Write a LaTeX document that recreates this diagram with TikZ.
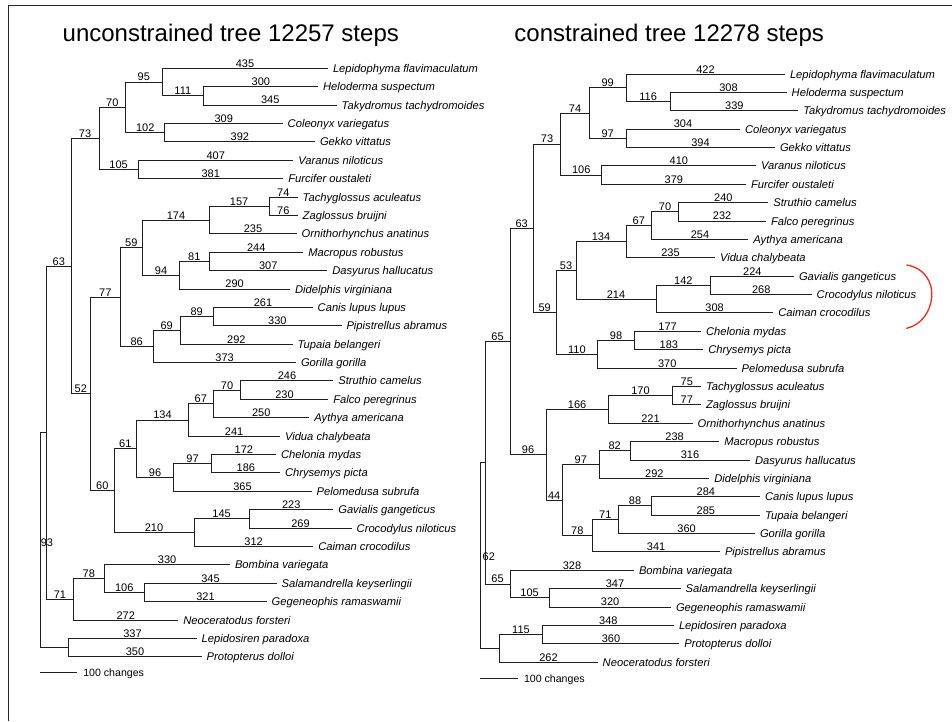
\documentclass[tikz,border=0pt]{standalone}
\usepackage{fontspec}
\setmainfont{Liberation Sans}
\definecolor{bracered}{RGB}{235,45,25}
\newcommand\tbr[3]{\draw[br] (#1) |- node[num]{#3} (#2);}
\begin{document}
\begin{tikzpicture}[x=1pt,y=-1pt,
  br/.style={draw=black!88, line width=0.9pt},
  frame/.style={draw=black!85, line width=1pt},
  leaf/.style={anchor=west, inner xsep=5pt, inner ysep=0pt, outer sep=0pt,
    font=\fontsize{11.2}{13}\selectfont\itshape, text height=8pt, text depth=0pt},
  num/.style={pos=0.75, above, inner sep=0pt, outer sep=0pt, yshift=1pt,
    font=\fontsize{11}{13}\selectfont},
  lbl/.style={inner sep=0pt, outer sep=0pt, font=\fontsize{11}{13}\selectfont},
  scl/.style={anchor=west, inner sep=0pt, outer sep=0pt, text height=8pt, text depth=0pt,
    font=\fontsize{10.6}{13}\selectfont},
  ttl/.style={anchor=base, inner sep=0pt, font=\fontsize{24}{28}\selectfont},
  bracestroke/.style={draw=bracered, line width=1.3pt, line cap=round}]

\useasboundingbox (0,0) rectangle (952,721);
\fill[white] (0,0) rectangle (952,721);

% frame
\coordinate (fa) at (8.3,721);
\coordinate (fb) at (8.3,5);
\coordinate (fc) at (952,5);
\draw[frame] (fa) -- (fb) -- (fc);

% titles
\node[ttl] (t1) at (230.8,41.7) {unconstrained tree 12257 steps};
\node[ttl] (t2) at (669.2,41.7) {constrained tree 12278 steps};

% ---------------- left tree leaves
\node[leaf] (L1) at (328,68.3) {Lepidophyma flavimaculatum};
\node[leaf] (L2) at (318,86.7) {Heloderma suspectum};
\node[leaf] (L3) at (336.7,105.1) {Takydromus tachydromoides};
\node[leaf] (L4) at (282.7,123.5) {Coleonyx variegatus};
\node[leaf] (L5) at (315,141.9) {Gekko vittatus};
\node[leaf] (L6) at (293.3,160.3) {Varanus niloticus};
\node[leaf] (L7) at (283.3,178.6) {Furcifer oustaleti};
\node[leaf] (L8) at (297.7,197.0) {Tachyglossus aculeatus};
\node[leaf] (L9) at (297.7,215.4) {Zaglossus bruijni};
\node[leaf] (L10) at (296.7,233.8) {Ornithorhynchus anatinus};
\node[leaf] (L11) at (303.3,252.2) {Macropus robustus};
\node[leaf] (L12) at (327.3,270.6) {Dasyurus hallucatus};
\node[leaf] (L13) at (290,289.0) {Didelphis virginiana};
\node[leaf] (L14) at (312.7,307.4) {Canis lupus lupus};
\node[leaf] (L15) at (341.5,325.8) {Pipistrellus abramus};
\node[leaf] (L16) at (292.7,344.2) {Tupaia belangeri};
\node[leaf] (L17) at (296,362.5) {Gorilla gorilla};
\node[leaf] (L18) at (333.3,380.9) {Struthio camelus};
\node[leaf] (L19) at (328.3,399.3) {Falco peregrinus};
\node[leaf] (L20) at (309.3,417.7) {Aythya americana};
\node[leaf] (L21) at (280,436.1) {Vidua chalybeata};
\node[leaf] (L22) at (276,454.5) {Chelonia mydas};
\node[leaf] (L23) at (280,472.9) {Chrysemys picta};
\node[leaf] (L24) at (311.7,491.3) {Pelomedusa subrufa};
\node[leaf] (L25) at (333.3,509.7) {Gavialis gangeticus};
\node[leaf] (L26) at (351.7,528.1) {Crocodylus niloticus};
\node[leaf] (L27) at (313.3,546.4) {Caiman crocodilus};
\node[leaf] (L28) at (230,564.8) {Bombina variegata};
\node[leaf] (L29) at (276.7,583.2) {Salamandrella keyserlingii};
\node[leaf] (L30) at (266.7,601.6) {Gegeneophis ramaswamii};
\node[leaf] (L31) at (178.3,620.0) {Neoceratodus forsteri};
\node[leaf] (L32) at (196.7,638.4) {Lepidosiren paradoxa};
\node[leaf] (L33) at (201.7,656.8) {Protopterus dolloi};

% left internal nodes
\coordinate (a111) at (203.7,95.9);
\coordinate (a95) at (162,82.1);
\coordinate (a102) at (164.7,132.7);
\coordinate (a70) at (125.7,107.4);
\coordinate (a105) at (138.3,169.5);
\coordinate (a73) at (99,138.5);
\coordinate (a157) at (269,206.2);
\coordinate (a174) at (209.3,220.0);
\coordinate (a81) at (209.3,261.4);
\coordinate (a94) at (179.3,275.2);
\coordinate (a59) at (142.7,247.6);
\coordinate (a89) at (213.3,316.6);
\coordinate (a69) at (180,330.4);
\coordinate (a86) at (153.3,346.5);
\coordinate (a77) at (120,297.0);
\coordinate (a70b) at (240.7,390.1);
\coordinate (a67) at (213.3,403.9);
\coordinate (a134) at (188.3,420.0);
\coordinate (a97) at (211.7,463.7);
\coordinate (a96) at (173.3,477.5);
\coordinate (a61) at (136.7,448.8);
\coordinate (a145) at (249.3,518.9);
\coordinate (a210) at (194,532.7);
\coordinate (a60) at (114,490.7);
\coordinate (a52) at (90.7,393.9);
\coordinate (a63) at (71,266.2);
\coordinate (a106) at (144.3,592.4);
\coordinate (a78) at (104.3,578.6);
\coordinate (a71) at (73.3,599.3);
\coordinate (a93) at (46.7,432.8);
\coordinate (aLu) at (68.3,647.6);
\coordinate (aR) at (40,540.2);

% left branches
\tbr{a95}{L1.west}{435}
\tbr{a111}{L2.west}{300}
\tbr{a111}{L3.west}{345}
\tbr{a95}{a111}{111}
\tbr{a70}{a95}{95}
\tbr{a102}{L4.west}{309}
\tbr{a102}{L5.west}{392}
\tbr{a70}{a102}{102}
\tbr{a73}{a70}{70}
\tbr{a105}{L6.west}{407}
\tbr{a105}{L7.west}{381}
\tbr{a73}{a105}{105}
\tbr{a63}{a73}{73}
\tbr{a157}{L8.west}{74}
\tbr{a157}{L9.west}{76}
\tbr{a174}{a157}{157}
\tbr{a174}{L10.west}{235}
\tbr{a59}{a174}{174}
\tbr{a81}{L11.west}{244}
\tbr{a81}{L12.west}{307}
\tbr{a94}{a81}{81}
\tbr{a94}{L13.west}{290}
\tbr{a59}{a94}{94}
\tbr{a77}{a59}{59}
\tbr{a89}{L14.west}{261}
\tbr{a89}{L15.west}{330}
\tbr{a69}{a89}{89}
\tbr{a69}{L16.west}{292}
\tbr{a86}{a69}{69}
\tbr{a86}{L17.west}{373}
\tbr{a77}{a86}{86}
\tbr{a52}{a77}{77}
\tbr{a70b}{L18.west}{246}
\tbr{a70b}{L19.west}{230}
\tbr{a67}{a70b}{70}
\tbr{a67}{L20.west}{250}
\tbr{a134}{a67}{67}
\tbr{a134}{L21.west}{241}
\tbr{a61}{a134}{134}
\tbr{a97}{L22.west}{172}
\tbr{a97}{L23.west}{186}
\tbr{a96}{a97}{97}
\tbr{a96}{L24.west}{365}
\tbr{a61}{a96}{96}
\tbr{a60}{a61}{61}
\tbr{a145}{L25.west}{223}
\tbr{a145}{L26.west}{269}
\tbr{a210}{a145}{145}
\tbr{a210}{L27.west}{312}
\tbr{a60}{a210}{210}
\tbr{a52}{a60}{60}
\tbr{a63}{a52}{52}
\tbr{a93}{a63}{63}
\tbr{a78}{L28.west}{330}
\tbr{a106}{L29.west}{345}
\tbr{a106}{L30.west}{321}
\tbr{a78}{a106}{106}
\tbr{a71}{a78}{78}
\tbr{a71}{L31.west}{272}
\tbr{a93}{a71}{71}
\draw[br] (aR) |- (a93);
\node[lbl] (n93) at (47,542.5) {93};
\tbr{aLu}{L32.west}{337}
\tbr{aLu}{L33.west}{350}
\draw[br] (aR) |- (aLu);

% left scale bar
\coordinate (sa1) at (40,672.7);
\coordinate (sa2) at (77.3,672.7);
\draw[br] (sa1) -- (sa2);
\node[scl] (sla) at (83.3,672.7) {100 changes};

% ---------------- right tree leaves
\node[leaf] (R1) at (785,74.0) {Lepidophyma flavimaculatum};
\node[leaf] (R2) at (786.7,92.4) {Heloderma suspectum};
\node[leaf] (R3) at (798.3,110.8) {Takydromus tachydromoides};
\node[leaf] (R4) at (740,129.1) {Coleonyx variegatus};
\node[leaf] (R5) at (775,147.5) {Gekko vittatus};
\node[leaf] (R6) at (756,165.9) {Varanus niloticus};
\node[leaf] (R7) at (746,184.3) {Furcifer oustaleti};
\node[leaf] (R8) at (768.3,202.7) {Struthio camelus};
\node[leaf] (R9) at (766,221.0) {Falco peregrinus};
\node[leaf] (R10) at (748.3,239.4) {Aythya americana};
\node[leaf] (R11) at (715,257.8) {Vidua chalybeata};
\node[leaf] (R12) at (794,276.2) {Gavialis gangeticus};
\node[leaf] (R13) at (811.7,294.6) {Crocodylus niloticus};
\node[leaf] (R14) at (773.3,312.9) {Caiman crocodilus};
\node[leaf] (R15) at (701,331.3) {Chelonia mydas};
\node[leaf] (R16) at (703.3,349.7) {Chrysemys picta};
\node[leaf] (R17) at (736.7,368.1) {Pelomedusa subrufa};
\node[leaf] (R18) at (701,386.5) {Tachyglossus aculeatus};
\node[leaf] (R19) at (701,404.8) {Zaglossus bruijni};
\node[leaf] (R20) at (692.7,423.2) {Ornithorhynchus anatinus};
\node[leaf] (R21) at (719.3,441.6) {Macropus robustus};
\node[leaf] (R22) at (750,460.0) {Dasyurus hallucatus};
\node[leaf] (R23) at (709.3,478.4) {Didelphis virginiana};
\node[leaf] (R24) at (760,496.7) {Canis lupus lupus};
\node[leaf] (R25) at (760,515.1) {Tupaia belangeri};
\node[leaf] (R26) at (755,533.5) {Gorilla gorilla};
\node[leaf] (R27) at (720,551.9) {Pipistrellus abramus};
\node[leaf] (R28) at (634,570.3) {Bombina variegata};
\node[leaf] (R29) at (680.7,588.6) {Salamandrella keyserlingii};
\node[leaf] (R30) at (671,607.0) {Gegeneophis ramaswamii};
\node[leaf] (R31) at (674,625.4) {Lepidosiren paradoxa};
\node[leaf] (R32) at (679.3,643.8) {Protopterus dolloi};
\node[leaf] (R33) at (597.7,662.2) {Neoceratodus forsteri};

% right internal nodes
\coordinate (b116) at (670.3,101.6);
\coordinate (b99) at (626,87.8);
\coordinate (b97a) at (626,138.3);
\coordinate (b74) at (589.3,113.05);
\coordinate (b106) at (601.7,175.1);
\coordinate (b73) at (560.7,144.1);
\coordinate (b70) at (678.3,211.85);
\coordinate (b67) at (651.7,225.6);
\coordinate (b134) at (626,241.7);
\coordinate (b142) at (710.7,285.4);
\coordinate (b214) at (656,299.15);
\coordinate (b53) at (576,270.4);
\coordinate (b98) at (634.3,340.5);
\coordinate (b110) at (597.7,354.3);
\coordinate (b59) at (556,312.35);
\coordinate (b63) at (533.3,228.2);
\coordinate (b170) at (672.7,395.65);
\coordinate (b166) at (608.3,409.4);
\coordinate (b82) at (630,450.8);
\coordinate (b97b) at (599.3,464.6);
\coordinate (b88) at (651.7,505.9);
\coordinate (b71) at (618.3,519.7);
\coordinate (b78) at (592.3,535.8);
\coordinate (b44) at (562.3,500.2);
\coordinate (b96) at (546,454.8);
\coordinate (b65a) at (510,341.5);
\coordinate (b105) at (549.3,597.8);
\coordinate (b65b) at (510,584.05);
\coordinate (b62) at (485,462.8);
\coordinate (b115) at (542.7,634.6);
\coordinate (bLu) at (499.3,648.4);
\coordinate (bR) at (480,555.6);

% right branches
\tbr{b99}{R1.west}{422}
\tbr{b116}{R2.west}{308}
\tbr{b116}{R3.west}{339}
\tbr{b99}{b116}{116}
\tbr{b74}{b99}{99}
\tbr{b97a}{R4.west}{304}
\tbr{b97a}{R5.west}{394}
\tbr{b74}{b97a}{97}
\tbr{b73}{b74}{74}
\tbr{b106}{R6.west}{410}
\tbr{b106}{R7.west}{379}
\tbr{b73}{b106}{106}
\tbr{b63}{b73}{73}
\tbr{b70}{R8.west}{240}
\tbr{b70}{R9.west}{232}
\tbr{b67}{b70}{70}
\tbr{b67}{R10.west}{254}
\tbr{b134}{b67}{67}
\tbr{b134}{R11.west}{235}
\tbr{b53}{b134}{134}
\tbr{b142}{R12.west}{224}
\tbr{b142}{R13.west}{268}
\tbr{b214}{b142}{142}
\tbr{b214}{R14.west}{308}
\tbr{b53}{b214}{214}
\tbr{b59}{b53}{53}
\tbr{b98}{R15.west}{177}
\tbr{b98}{R16.west}{183}
\tbr{b110}{b98}{98}
\tbr{b110}{R17.west}{370}
\tbr{b59}{b110}{110}
\tbr{b63}{b59}{59}
\tbr{b65a}{b63}{63}
\tbr{b170}{R18.west}{75}
\tbr{b170}{R19.west}{77}
\tbr{b166}{b170}{170}
\tbr{b166}{R20.west}{221}
\tbr{b96}{b166}{166}
\tbr{b82}{R21.west}{238}
\tbr{b82}{R22.west}{316}
\tbr{b97b}{b82}{82}
\tbr{b97b}{R23.west}{292}
\tbr{b44}{b97b}{97}
\tbr{b88}{R24.west}{284}
\tbr{b88}{R25.west}{285}
\tbr{b71}{b88}{88}
\tbr{b71}{R26.west}{360}
\tbr{b78}{b71}{71}
\tbr{b78}{R27.west}{341}
\tbr{b44}{b78}{78}
\tbr{b96}{b44}{44}
\tbr{b65a}{b96}{96}
\tbr{b62}{b65a}{65}
\tbr{b65b}{R28.west}{328}
\tbr{b105}{R29.west}{347}
\tbr{b105}{R30.west}{320}
\tbr{b65b}{b105}{105}
\tbr{b62}{b65b}{65}
\draw[br] (bR) |- (b62);
\node[lbl] (n62) at (488.8,556.7) {62};
\tbr{b115}{R31.west}{348}
\tbr{b115}{R32.west}{360}
\tbr{bLu}{b115}{115}
\tbr{bLu}{R33.west}{262}
\draw[br] (bR) |- (bLu);

% right scale bar
\coordinate (sb1) at (480,678.3);
\coordinate (sb2) at (518.3,678.3);
\draw[br] (sb1) -- (sb2);
\node[scl] (slb) at (524,678.3) {100 changes};

% red hand-drawn bracket
\draw[bracestroke] (906.7,265) .. controls (925,268) and (933,283) .. (931.7,297)
  .. controls (930.5,312) and (921,325) .. (906.7,328.3);

\end{tikzpicture}
\end{document}
